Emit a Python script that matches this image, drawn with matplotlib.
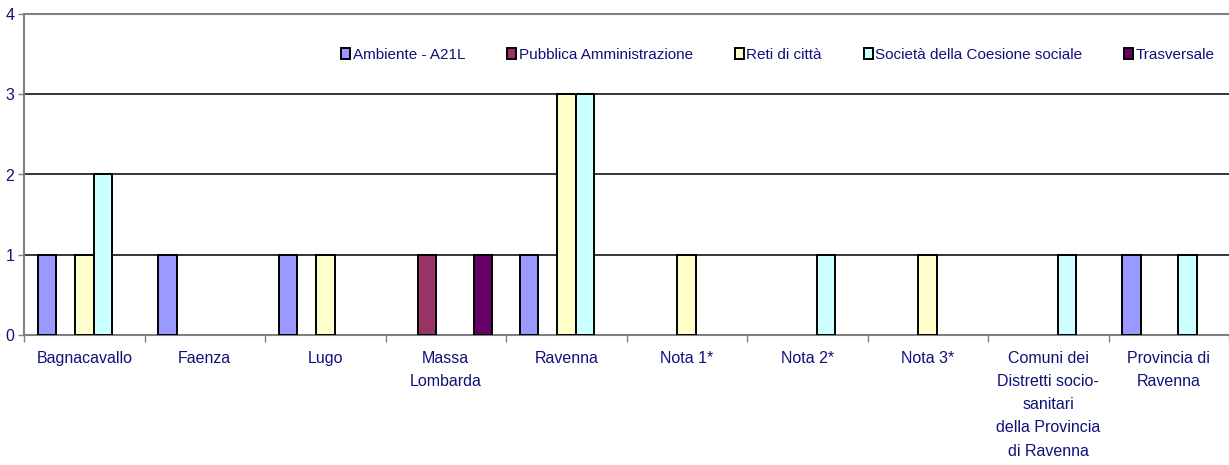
import numpy as np
import matplotlib
matplotlib.use("Agg")
import matplotlib.pyplot as plt

plt.rcParams['font.family'] = ['Liberation Sans', 'DejaVu Sans']

# categories (x axis) and one value list per series
categories = [
    "Bagnacavallo", "Faenza", "Lugo", "Massa\nLombarda", "Ravenna",
    "Nota 1*", "Nota 2*", "Nota 3*",
    "Comuni dei\nDistretti socio-\nsanitari\ndella Provincia\ndi Ravenna",
    "Provincia di\nRavenna",
]
series_names = [
    "Ambiente - A21L", "Pubblica Amministrazione", "Reti di città",
    "Società della Coesione sociale", "Trasversale",
]
ambiente = [1, 1, 1, 0, 1, 0, 0, 0, 0, 1]
pubblica = [0, 0, 0, 1, 0, 0, 0, 0, 0, 0]
reti = [1, 0, 1, 0, 3, 1, 0, 1, 0, 0]
coesione = [2, 0, 0, 0, 3, 0, 1, 0, 1, 1]
trasversale = [0, 0, 0, 1, 0, 0, 0, 0, 0, 0]
colors = ["#9999FF", "#993366", "#FFFFCC", "#CCFFFF", "#660066"]

text_color = "#10107a"
axis_gray = "#808080"

fig = plt.figure(figsize=(12.29, 4.65), dpi=100)
ax = fig.add_axes([24 / 1229, 1 - 335 / 465, 1 - 24 / 1229, (335 - 14) / 465])

values = [ambiente, pubblica, reti, coesione, trasversale]
n_series = len(values)
bar_w = 1 / (n_series + 1.5)
x = np.arange(len(categories))
for i, (vals, name, col) in enumerate(zip(values, series_names, colors)):
    offs = (i - (n_series - 1) / 2) * bar_w
    v = np.array(vals, dtype=float)
    mask = v > 0
    ax.bar(x[mask] + offs, v[mask], width=bar_w, color=col,
           edgecolor="black", linewidth=1.4, zorder=3)
    # empty handle so every series shows in the legend
    ax.bar([0], [0], width=0, color=col, edgecolor="black",
           linewidth=1.4, label=name)

ax.set_xlim(-0.5, len(categories) - 0.5)
ax.set_ylim(0, 4)
ax.set_yticks([0, 1, 2, 3, 4])
for yv in [1, 2, 3]:
    ax.axhline(yv, color="black", linewidth=1.1, zorder=1)

# boundary ticks between categories, labels at centres
ax.set_xticks(np.arange(len(categories) + 1) - 0.5)
ax.set_xticklabels([])
ax.set_xticks(x, minor=True)
ax.set_xticklabels(categories, minor=True, fontsize=11.5, color=text_color,
                   linespacing=1.68, va="top")
ax.tick_params(axis="x", which="minor", length=0, pad=11.5)
ax.tick_params(axis="x", which="major", length=5, width=1, color=axis_gray,
               direction="out")
ax.tick_params(axis="y", length=4, width=1, color=axis_gray, pad=3,
               labelsize=11.5, labelcolor=text_color)

for side in ["left", "bottom", "top"]:
    ax.spines[side].set_color(axis_gray)
    ax.spines[side].set_linewidth(1.5)
ax.spines["right"].set_visible(False)

leg = ax.legend(loc="center left", bbox_to_anchor=(335 / 1229, 1 - 55 / 465),
                bbox_transform=fig.transFigure, ncol=5, frameon=False,
                fontsize=11, handlelength=0.6, handleheight=0.7,
                handletextpad=0.15, columnspacing=2.75, borderaxespad=0)
for t in leg.get_texts():
    t.set_color(text_color)

fig.savefig("out.png", dpi=100)
